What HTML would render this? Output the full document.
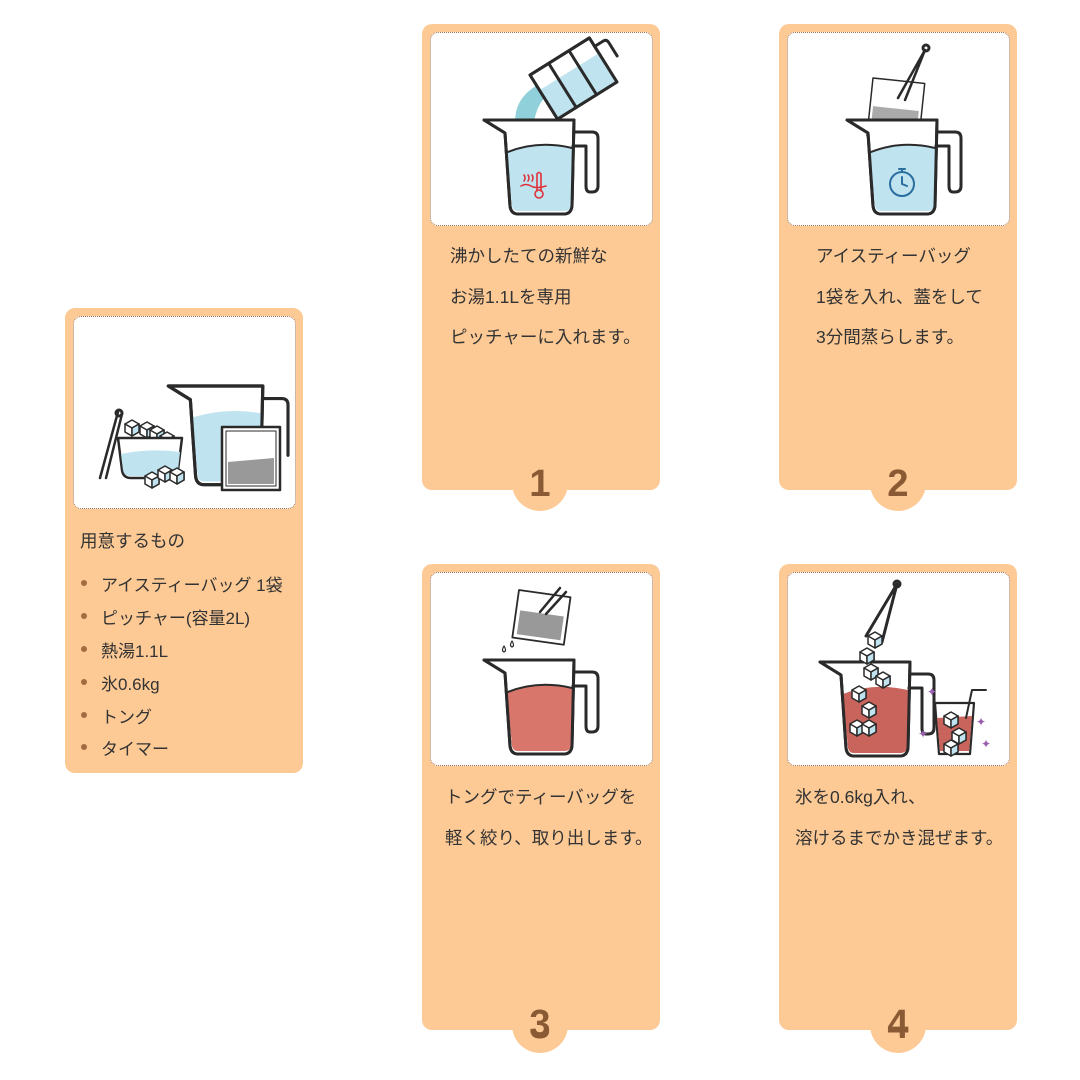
<!DOCTYPE html>
<html><head><meta charset="utf-8">
<style>
html,body{margin:0;padding:0;background:#fff;}
body{width:1080px;height:1080px;position:relative;overflow:hidden;font-family:"Liberation Sans","Noto Sans CJK JP",sans-serif;color:#333;}
.card{position:absolute;background:#fdca95;border-radius:10px;}
.img{position:absolute;background:#fff;border:1px dotted #a07050;border-radius:8px;}
.num{position:absolute;width:56px;height:56px;border-radius:50%;background:#fdca95;color:#8a5a35;font-weight:bold;font-size:38px;text-align:center;line-height:58px;}
.t{position:absolute;font-size:17.5px;line-height:40.5px;white-space:nowrap;}
.li{position:absolute;font-size:17px;white-space:nowrap;}
.li:before{content:"";position:absolute;left:-20px;top:9px;width:6px;height:6px;border-radius:50%;background:#a36b3f;}
svg{position:absolute;left:0;top:0;}
</style></head><body>

<div class="card" style="left:65px;top:308px;width:238px;height:465px"></div>
<div class="img" style="left:73px;top:316px;width:221px;height:191px"></div>
<div style="position:absolute;left:80px;top:528px;font-size:17.5px">用意するもの</div>
<div class="li" style="left:101px;top:571px">アイスティーバッグ 1袋</div>
<div class="li" style="left:101px;top:604px">ピッチャー(容量2L)</div>
<div class="li" style="left:101px;top:637px">熱湯1.1L</div>
<div class="li" style="left:101px;top:670px">氷0.6kg</div>
<div class="li" style="left:101px;top:703px">トング</div>
<div class="li" style="left:101px;top:735px">タイマー</div>

<div class="num" style="left:512px;top:455px">1</div>
<div class="card" style="left:422px;top:24px;width:238px;height:466px"></div>
<div class="img" style="left:430px;top:32px;width:221px;height:192px"></div>
<div class="t" style="left:450px;top:236px">沸かしたての新鮮な<br>お湯1.1Lを専用<br>ピッチャーに入れます。</div>
<div style="position:absolute;left:512px;top:455px;width:56px;height:56px;color:#8a5a35;font-weight:bold;font-size:38px;text-align:center;line-height:58px">1</div>

<div class="num" style="left:870px;top:455px">2</div>
<div class="card" style="left:779px;top:24px;width:238px;height:466px"></div>
<div class="img" style="left:787px;top:32px;width:221px;height:192px"></div>
<div class="t" style="left:816px;top:236px">アイスティーバッグ<br>1袋を入れ、蓋をして<br>3分間蒸らします。</div>
<div style="position:absolute;left:870px;top:455px;width:56px;height:56px;color:#8a5a35;font-weight:bold;font-size:38px;text-align:center;line-height:58px">2</div>

<div class="num" style="left:512px;top:997px">3</div>
<div class="card" style="left:422px;top:564px;width:238px;height:466px"></div>
<div class="img" style="left:430px;top:572px;width:221px;height:192px"></div>
<div class="t" style="left:445px;top:777px">トングでティーバッグを<br>軽く絞り、取り出します。</div>
<div style="position:absolute;left:512px;top:995px;width:56px;height:56px;color:#8a5a35;font-weight:bold;font-size:38px;text-align:center;line-height:58px">3</div>

<div class="num" style="left:870px;top:997px">4</div>
<div class="card" style="left:779px;top:564px;width:238px;height:466px"></div>
<div class="img" style="left:787px;top:572px;width:221px;height:192px"></div>
<div class="t" style="left:795px;top:777px">氷を0.6kg入れ、<br>溶けるまでかき混ぜます。</div>
<div style="position:absolute;left:870px;top:995px;width:56px;height:56px;color:#8a5a35;font-weight:bold;font-size:38px;text-align:center;line-height:58px">4</div>

<svg width="1080" height="1080" viewBox="0 0 1080 1080" fill="none" stroke="#2a2a2a" stroke-width="3" stroke-linejoin="round" stroke-linecap="round">
<defs>
<g id="pj">
<path d="M-14,0 L76,0 L74,86 Q73,94 66,94 L20,94 Q13,94 12,86 L7,13 Z" fill="#fff"/>
<path d="M76,12 L94,12 Q100,12 100,18 L100,66 Q100,72 94,72 L92,72 Q88,72 88,66 L88,26 L75,26"/>
</g>
<g id="cube"><path d="M0,4 L7,0 L14,4 L14,12 L7,16 L0,12 Z" fill="#fff" stroke-width="1.5"/><path d="M0,4 L7,8 L14,4 M7,8 L7,16" stroke-width="1.5"/><path d="M7,8 L14,4 L14,12 L7,16Z" fill="#bfe3ef" stroke-width="1.5"/></g>
</defs>

<!-- card1 -->
<path d="M548,80 Q510,95 516,130 L533,130 Q535,100 556,88 Z" fill="#8fd0da" stroke="none"/>
<g transform="translate(530,75) rotate(-32)"><rect x="0" y="0" width="70" height="52" fill="#fff"/><path d="M0,18 L70,18 L70,52 L0,52Z" fill="#bfe3ef" stroke="none"/><rect x="0" y="0" width="70" height="52"/><path d="M22,0 L22,52 M46,0 L46,52"/><path d="M70,10 L80,10 Q84,10 84,14 L84,30"/></g>
<g transform="translate(498,120)"><use href="#pj"/><path d="M9,32 Q40,20 74,28 L73,86 Q72,91 66,91 L20,91 Q15,91 14,86 Z" fill="#bfe3ef" stroke="none"/><path d="M-14,0 L76,0 L74,86 Q73,94 66,94 L20,94 Q13,94 12,86 L7,13 Z"/><path d="M10,32 Q40,20 74,28" stroke-width="2"/>
<g stroke="#e0303a" stroke-width="1.6"><circle cx="41" cy="74" r="4"/><path d="M39,71 L39,54 Q41,51 43,54 L43,71"/><path d="M23,66 Q28,63 33,66 Q38,69 48,66"/><path d="M26,55 q2,3 0,6 M30,55 q2,3 0,6 M34,55 q2,3 0,6"/></g></g>

<!-- card2 -->
<g transform="translate(873,78) rotate(6)"><rect x="0" y="0" width="52" height="58" fill="#fff" stroke-width="1.5"/><rect x="3" y="28" width="46" height="27" fill="#aaa" stroke="none"/></g>
<path d="M925,50 L898,98 M925,50 L905,100" stroke-width="2.5"/><circle cx="926" cy="48" r="3"/>
<g transform="translate(861,120)"><path d="M9,32 Q40,20 74,28 L73,86 Q72,91 66,91 L20,91 Q15,91 14,86 Z" fill="#bfe3ef" stroke="none"/><use href="#pj"/><path d="M9,32 Q40,20 74,28 L73,86 Q72,91 66,91 L20,91 Q15,91 14,86 Z" fill="#bfe3ef" stroke="none"/><path d="M-14,0 L76,0 L74,86 Q73,94 66,94 L20,94 Q13,94 12,86 L7,13 Z"/><path d="M10,32 Q40,20 74,28" stroke-width="2"/>
<circle cx="41" cy="64" r="12" stroke="#2a6fa0" stroke-width="2" fill="#bfe3ef"/><path d="M41,64 L41,57 M41,64 L46,66 M38,49 L44,49 M41,49 L41,52" stroke="#2a6fa0" stroke-width="2"/></g>

<!-- card3 -->
<g transform="translate(519,590) rotate(8)"><rect x="0" y="0" width="52" height="48" fill="#fff" stroke-width="1.8"/><rect x="4" y="20" width="44" height="24" fill="#999" stroke="none"/></g>
<path d="M560,588 L540,612 M566,592 L546,614" stroke-width="2.5"/>
<g transform="translate(498,660)"><use href="#pj"/><path d="M9,32 Q40,20 74,28 L73,86 Q72,91 66,91 L20,91 Q15,91 14,86 Z" fill="#d8766c" stroke="none"/><path d="M-14,0 L76,0 L74,86 Q73,94 66,94 L20,94 Q13,94 12,86 L7,13 Z"/><path d="M10,32 Q40,20 74,28" stroke-width="2"/></g>
<path d="M504,646 q-3,5 0,6 q3,-1 0,-6 M512,641 q-3,5 0,6 q3,-1 0,-6" stroke-width="1.2"/>

<!-- card4 -->
<path d="M897,584 L866,636 M897,584 L882,642" stroke-width="3"/><circle cx="897" cy="584" r="3"/>
<g transform="translate(834,662)"><use href="#pj"/><path d="M9,32 Q40,20 74,28 L73,86 Q72,91 66,91 L20,91 Q15,91 14,86 Z" fill="#c8645c" stroke="none"/><path d="M-14,0 L76,0 L74,86 Q73,94 66,94 L20,94 Q13,94 12,86 L7,13 Z"/></g>
<use href="#cube" x="868" y="632"/><use href="#cube" x="860" y="648"/><use href="#cube" x="864" y="664"/><use href="#cube" x="876" y="672"/><use href="#cube" x="852" y="686"/><use href="#cube" x="862" y="702"/><use href="#cube" x="850" y="720"/><use href="#cube" x="862" y="720"/>
<path d="M935,703 L974,703 L970,754 L939,754 Z" fill="#fff" stroke-width="2.2"/><path d="M937,718 L972,716 L969,751 L940,751 Z" fill="#c8645c" stroke="none"/><path d="M966,718 L972,690 L986,690" stroke-width="2"/>
<use href="#cube" x="944" y="712"/><use href="#cube" x="952" y="728"/><use href="#cube" x="944" y="740"/>
<g fill="#9a5fb0" stroke="none" font-size="12"><text x="927" y="696">✦</text><text x="976" y="726">✦</text><text x="918" y="738">✦</text><text x="981" y="748">✦</text></g>

<!-- left card -->
<path d="M100,478 L118,412 M106,478 L122,414" stroke-width="2.5"/><circle cx="119" cy="413" r="3"/>
<use href="#cube" x="125" y="420"/><use href="#cube" x="140" y="422"/><use href="#cube" x="150" y="426"/><use href="#cube" x="160" y="432"/>
<path d="M118,438 L182,438 L178,470 Q177,478 169,478 L131,478 Q123,478 122,470 Z" fill="#fff" stroke-width="2.5"/><path d="M121,454 Q150,448 180,452 L178,470 Q177,476 169,476 L131,476 Q124,476 123,470 Z" fill="#bfe3ef" stroke="none"/>
<use href="#cube" x="145" y="472"/><use href="#cube" x="158" y="466"/><use href="#cube" x="170" y="468"/>
<g transform="translate(183,386) scale(1.05)"><path d="M-14,0 L76,0 L74,86 Q73,94 66,94 L20,94 Q13,94 12,86 L7,13 Z" fill="#fff"/><path d="M9,30 Q40,20 74,26 L73,86 Q72,91 66,91 L20,91 Q15,91 14,86 Z" fill="#bfe3ef" stroke="none"/><path d="M-14,0 L76,0 L74,86 Q73,94 66,94 L20,94 Q13,94 12,86 L7,13 Z"/><path d="M76,12 L94,12 Q100,12 100,18 L100,66"/></g>
<rect x="222" y="427" width="58" height="63" fill="#fff" stroke-width="2.5"/><rect x="226" y="431" width="50" height="55" stroke-width="1"/><path d="M228,462 L274,458 L274,484 L228,484Z" fill="#999" stroke="none"/>
</svg>
</body></html>
